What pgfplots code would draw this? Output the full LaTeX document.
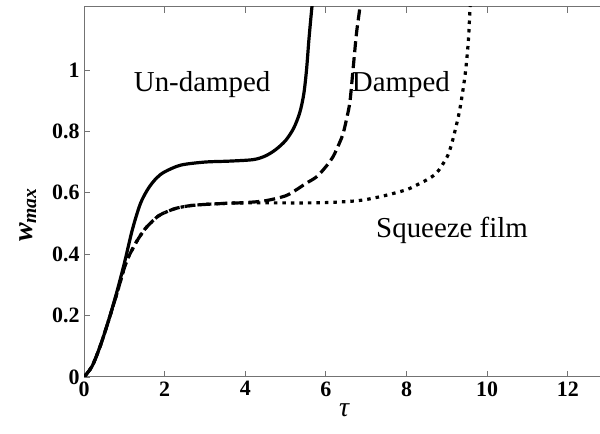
\documentclass[border=0pt]{standalone}
\usepackage{fontspec}
\setmainfont{Liberation Serif}
\usepackage{pgfplots}
\pgfplotsset{compat=1.18}
\definecolor{axisgray}{gray}{0.45}
\begin{document}
\begin{tikzpicture}
\begin{axis}[
  at={(84bp,57bp)}, anchor=south west,
  scale only axis, width=516bp, height=370bp,
  xmin=0, xmax=12.8, ymin=0, ymax=1.205,
  xtick={0,2,4,6,8,10,12},
  ytick={0,0.2,0.4,0.6,0.8,1},
  yticklabels={0,0.2,0.4,0.6,0.8,1},
  xticklabels={0,2,4,6,8,10,12},
  xtick pos=both, ytick pos=left,
  tick align=inside,
  major tick length=6bp,
  tick style={axisgray, line width=0.8bp},
  axis line style={draw=none},
  ticklabel style={font=\bfseries\fontsize{22}{22}\selectfont},
  xticklabel style={yshift=-1bp},
  yticklabel style={xshift=-1bp},
  clip mode=individual,
]
\draw[axisgray, line width=1bp] (rel axis cs:0,1) -- (rel axis cs:0,0) -- (rel axis cs:1,0);
\draw[axisgray, line width=1bp] (rel axis cs:0,1) -- (rel axis cs:1,1);
% Un-damped
\addplot[black, line width=3.2bp, smooth, tension=0.5] coordinates {
(0,0) (0.2,0.035) (0.4,0.1) (0.6,0.18) (0.8,0.27) (1.0,0.37) (1.2,0.48)
(1.4,0.565) (1.6,0.615) (1.8,0.648) (2.0,0.668) (2.4,0.69) (3.0,0.70)
(3.6,0.703) (4.2,0.708) (4.5,0.72) (4.75,0.74) (5.0,0.77) (5.2,0.81)
(5.35,0.86) (5.45,0.92) (5.52,1.0) (5.58,1.1) (5.65,1.2) (5.7,1.26)
};
% Damped
\addplot[black, line width=3.2bp, smooth, tension=0.5, dash pattern=on 11bp off 5bp] coordinates {
(0,0) (0.2,0.035) (0.4,0.1) (0.6,0.18) (0.8,0.265) (1.0,0.355) (1.1,0.39)
(1.3,0.44) (1.5,0.48) (1.64,0.50) (1.85,0.525) (2.05,0.538) (2.3,0.55)
(2.63,0.558) (3.0,0.562) (3.6,0.566) (4.0,0.568) (4.5,0.574) (5.0,0.59)
(5.27,0.61) (5.5,0.63) (5.77,0.652) (6.0,0.685) (6.18,0.718) (6.33,0.76)
(6.43,0.794) (6.53,0.85) (6.6,0.90) (6.68,1.01) (6.76,1.12) (6.84,1.2) (6.88,1.26)
};
% Squeeze film
\addplot[black, line width=3.2bp, smooth, tension=0.5, dash pattern=on 3.5bp off 5bp] coordinates {
(0,0) (0.2,0.035) (0.4,0.1) (0.6,0.18) (0.8,0.265) (1.0,0.355) (1.1,0.39)
(1.3,0.44) (1.5,0.48) (1.64,0.50) (1.85,0.525) (2.05,0.538) (2.3,0.55)
(2.63,0.558) (3.0,0.562) (3.6,0.566) (4.0,0.567) (4.5,0.567) (5.0,0.567)
(5.5,0.567) (6.0,0.568) (6.6,0.572) (7.0,0.578) (7.5,0.592) (8.0,0.61)
(8.25,0.625) (8.5,0.642) (8.75,0.665) (9.0,0.715) (9.1,0.75) (9.2,0.8)
(9.32,0.87) (9.45,0.98) (9.53,1.087) (9.57,1.185) (9.6,1.26)
};
\node[font=\fontsize{29}{29}\selectfont] at (axis cs:2.93,0.954) {Un-damped};
\node[font=\fontsize{29}{29}\selectfont] at (axis cs:7.86,0.954) {Damped};
\node[font=\fontsize{29}{29}\selectfont] at (axis cs:9.13,0.479) {Squeeze film};
\end{axis}
\node[rotate=90, font=\bfseries\itshape\fontsize{28}{28}\selectfont] at (28bp,219bp) {w\textsubscript{max}};
\node[font=\itshape\fontsize{28}{28}\selectfont] at (344bp,24bp) {τ};
\pgfresetboundingbox
\useasboundingbox (0,0) rectangle (600bp,434bp);
\end{tikzpicture}
\end{document}
